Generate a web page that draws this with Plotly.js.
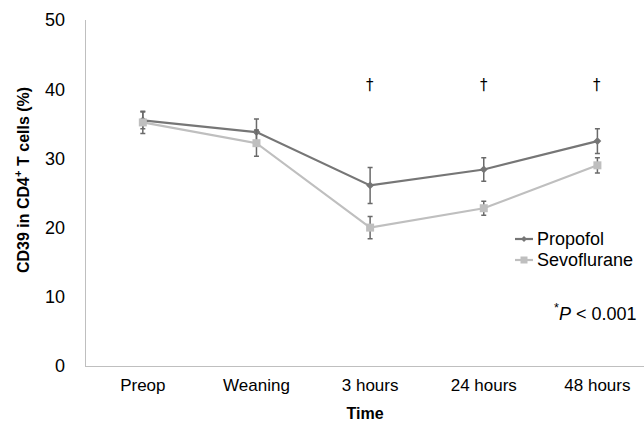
<!DOCTYPE html>
<html>
<head>
<meta charset="utf-8">
<script src="https://cdn.plot.ly/plotly-3.0.1.min.js"></script>
<style>html,body{margin:0;padding:0;background:#fff;overflow:hidden}</style>
</head>
<body>
<div id="chart" style="width:644px;height:422px;"></div>
<script>
const categories = ["Preop", "Weaning", "3 hours", "24 hours", "48 hours"];
const propofol = [35.5, 33.8, 26.1, 28.4, 32.5];
const propofolErr = [1.2, 1.9, 2.6, 1.7, 1.8];
const sevoflurane = [35.2, 32.2, 20.0, 22.8, 29.0];
const sevofluraneErr = [1.6, 1.9, 1.6, 1.0, 1.1];
const seriesNames = ["Propofol", "Sevoflurane"];
const daggerCats = ["3 hours", "24 hours", "48 hours"];
const daggerY = 40.6;
const yTicks = [0, 10, 20, 30, 40, 50];

const font = "Liberation Sans, Arial, sans-serif";
const catIndex = c => categories.indexOf(c);
const colors = ["#767676", "#bfbfbf"];

// plot area geometry (pixels) -> paper coordinates for legend / notes
const L = 86, T = 20, W = 558, H = 346;
const px = x => (x - L) / W;
const py = y => (T + H - y) / H;

const traces = [
  {
    x: categories.map((c, i) => i), y: propofol, name: seriesNames[0],
    type: "scatter", mode: "lines+markers",
    line: {color: colors[0], width: 2.2},
    marker: {symbol: "diamond", size: 6, color: colors[0]},
    error_y: {type: "data", array: propofolErr, visible: true, color: "#6a6a6a", thickness: 1.5, width: 2.5}
  },
  {
    x: categories.map((c, i) => i), y: sevoflurane, name: seriesNames[1],
    type: "scatter", mode: "lines+markers",
    line: {color: colors[1], width: 2.2},
    marker: {symbol: "square", size: 8, color: colors[1]},
    error_y: {type: "data", array: sevofluraneErr, visible: true, color: "#6a6a6a", thickness: 1.5, width: 2.5}
  }
];

const annotations = daggerCats.map(c => ({
  x: catIndex(c), y: daggerY, xref: "x", yref: "y", text: "†", showarrow: false,
  font: {family: "DejaVu Sans, sans-serif", size: 15, color: "#000000"}
}));
annotations.push({
  x: px(638), xref: "paper", xanchor: "right", y: py(312), yref: "paper", yanchor: "middle",
  showarrow: false, text: "<sup>*</sup><i>P</i> &lt; 0.001",
  font: {family: font, size: 18, color: "#000"}
});
annotations.push({
  x: px(22), xref: "paper", xanchor: "center", y: py(180), yref: "paper", yanchor: "middle",
  showarrow: false, textangle: -90, text: "<b>CD39 in CD4<sup>+</sup> T cells (%)</b>",
  font: {family: font, size: 16, color: "#000"}
});

// manual legend
const legendRows = [239, 260];
const shapes = [];
seriesNames.forEach((name, i) => {
  const yy = py(legendRows[i]);
  annotations.push({
    x: px(535), xref: "paper", xanchor: "left", y: yy, yref: "paper", yanchor: "middle",
    showarrow: false, text: name, font: {family: font, size: 18, color: "#000"}
  });
  shapes.push({type: "line", xref: "paper", yref: "paper", x0: px(515), x1: px(533), y0: yy, y1: yy,
    line: {color: colors[i], width: 2.2}});
});
// legend marker samples
(function () {
  const cx = px(524), cy0 = py(legendRows[0]), cy1 = py(legendRows[1]);
  const dx = 3 / W, dy = 3 / H;
  shapes.push({type: "path", xref: "paper", yref: "paper",
    path: `M${cx - dx},${cy0} L${cx},${cy0 + dy} L${cx + dx},${cy0} L${cx},${cy0 - dy} Z`,
    fillcolor: colors[0], line: {color: colors[0], width: 0}});
  const sx = 3.5 / W, sy = 3.5 / H;
  shapes.push({type: "rect", xref: "paper", yref: "paper",
    x0: cx - sx, x1: cx + sx, y0: cy1 - sy, y1: cy1 + sy,
    fillcolor: colors[1], line: {color: colors[1], width: 0}});
})();

const layout = {
  width: 644, height: 422,
  margin: {l: L, r: 644 - L - W, t: T, b: 422 - T - H},
  paper_bgcolor: "#fff", plot_bgcolor: "#fff",
  font: {family: font, size: 16, color: "#000"},
  showlegend: false,
  xaxis: {
    range: [-0.5, 4.41], tickmode: "array", tickvals: categories.map((c, i) => i), ticktext: categories,
    showline: true, linecolor: "#bfbfbf", linewidth: 1.3, showgrid: false, zeroline: false,
    ticks: "", ticklabelstandoff: 3, tickfont: {family: font, size: 17, color: "#000"},
    title: {text: "<b>Time</b>", font: {family: font, size: 16, color: "#000"}, standoff: 15}
  },
  yaxis: {
    range: [0, 50], tickvals: yTicks,
    showline: true, linecolor: "#bfbfbf", linewidth: 1.3, showgrid: false, zeroline: false,
    ticks: "", ticklabelstandoff: 16, tickfont: {family: font, size: 18, color: "#000"}
  },
  annotations: annotations,
  shapes: shapes
};

Plotly.newPlot("chart", traces, layout, {displayModeBar: false, staticPlot: true});
</script>
</body>
</html>
